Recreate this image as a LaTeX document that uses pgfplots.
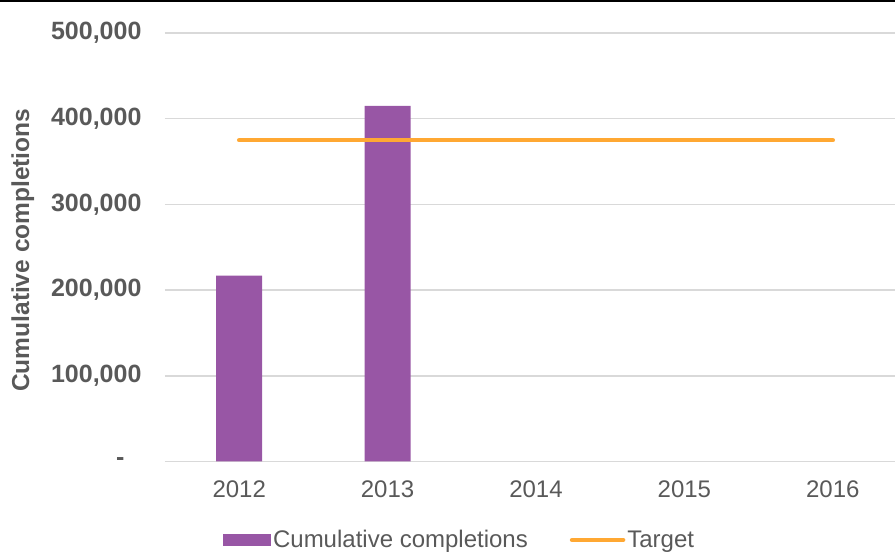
\documentclass[border=0pt]{standalone}
\usepackage{pgfplots}
\pgfplotsset{compat=1.18}
\usepackage{fontspec}
\setmainfont{Liberation Sans}
\definecolor{txtgray}{HTML}{595959}
\definecolor{gridgray}{HTML}{D9D9D9}
\definecolor{barpurple}{HTML}{9856A5}
\definecolor{targetorange}{HTML}{FFA833}
\begin{document}
\begin{tikzpicture}[x=1pt,y=1pt]
\useasboundingbox (0,0) rectangle (895,554);
\clip (0,0) rectangle (895,554);
\fill[black] (0,551.5) rectangle (895,554);
\begin{axis}[
  at={(165pt,92.5pt)}, anchor=south west,
  scale only axis, width=742pt, height=428.5pt,
  xmin=-0.5, xmax=4.5, ymin=0, ymax=500000,
  axis line style={draw=none},
  ytick={0,100000,200000,300000,400000,500000},
  yticklabels={{\makebox[84pt][r]{-\hspace*{17pt}}},{100,000},{200,000},{300,000},{400,000},{500,000}},
  xtick={0,1,2,3,4},
  xticklabels={2012,2013,2014,2015,2016},
  tick style={draw=none},
  major tick length=0pt,
  xmajorgrids=false,
  ymajorgrids, grid style={draw=gridgray, line width=1.5pt},
  tick label style={font=\fontsize{24}{28}\selectfont, text=txtgray},
  yticklabel style={font=\fontsize{25}{28}\selectfont\bfseries, xshift=-20pt},
  xticklabel style={yshift=-16pt},
  scaled y ticks=false,
  /pgf/number format/assume math mode=true,
  ylabel={Cumulative completions},
  every axis y label/.style={at={(rel axis cs:-0.1915,0.493)}, rotate=90, anchor=center,
     font=\fontsize{24.5}{28}\selectfont\bfseries, text=txtgray},
  legend columns=2,
  legend style={at={(0.397,-0.183)}, anchor=center, draw=none, fill=none,
     font=\fontsize{24}{28}\selectfont, text=txtgray,
     /tikz/every even column/.append style={column sep=40pt}},
  clip=false,
]
\addplot[ybar, bar width=46pt, fill=barpurple, draw=none,
  legend image code/.code={\fill[barpurple] (0pt,-6pt) rectangle (48pt,6pt);}]
  coordinates {(0,217000) (1,415000)};
\addlegendentry{Cumulative completions}
\addplot[targetorange, line width=4.5pt, line cap=round,
  legend image code/.code={\draw[targetorange, line width=4.5pt, line cap=round] (2pt,0pt) -- (53pt,0pt);}]
  coordinates {(0,375000) (4,375000)};
\addlegendentry{Target}
\end{axis}
\end{tikzpicture}
\end{document}
